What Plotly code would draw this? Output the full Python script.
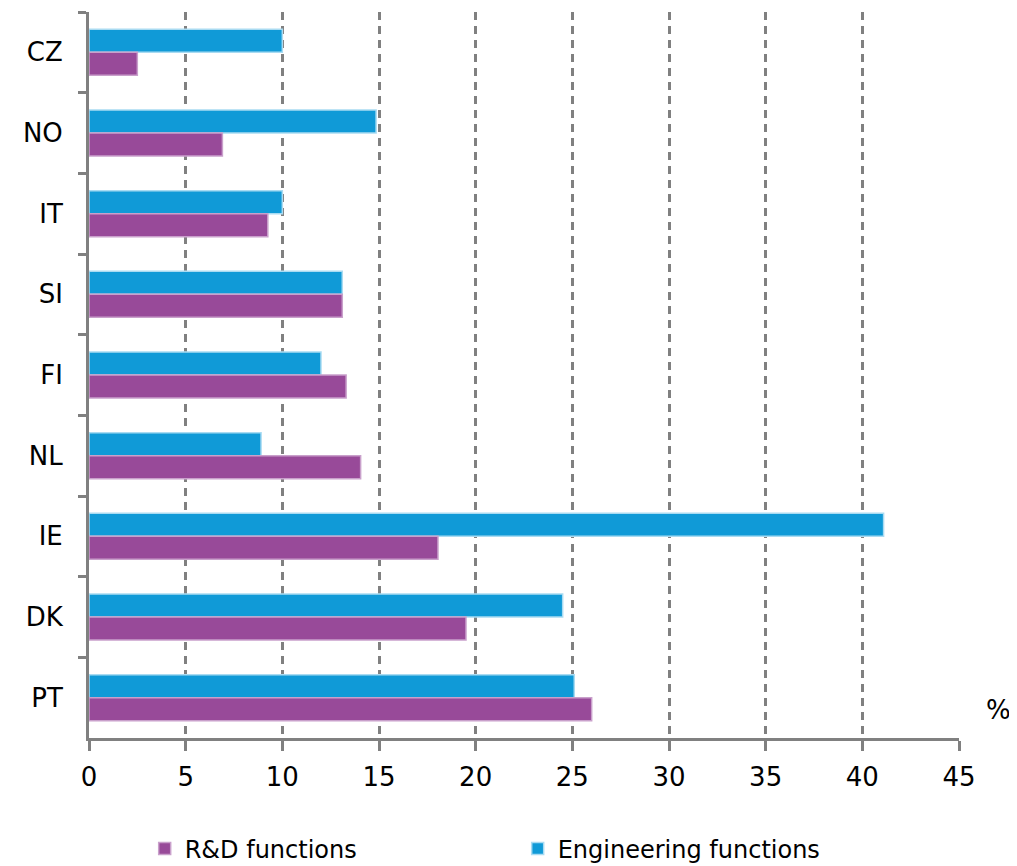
import plotly.graph_objects as go

countries = ["CZ", "NO", "IT", "SI", "FI", "NL", "IE", "DK", "PT"]
rd_values = [2.5, 6.9, 9.25, 13.1, 13.3, 14.05, 18.05, 19.5, 26.0]
eng_values = [10.0, 14.85, 10.0, 13.1, 12.0, 8.9, 41.1, 24.5, 25.1]
x_ticks = [0, 5, 10, 15, 20, 25, 30, 35, 40, 45]

FONT = "DejaVu Sans"

fig = go.Figure()
fig.add_trace(go.Bar(
    y=countries, x=eng_values, orientation="h", name="Engineering functions",
    marker=dict(color="#109AD7", line=dict(color="#A9DBF2", width=1.5)),
    legendrank=2,
))
fig.add_trace(go.Bar(
    y=countries, x=rd_values, orientation="h", name="R&D functions",
    marker=dict(color="#984A99", line=dict(color="#C9A0CB", width=1.5)),
    legendrank=1,
))

fig.update_layout(
    width=1009, height=858,
    margin=dict(l=81, r=58, t=4, b=128, autoexpand=False),
    paper_bgcolor="white", plot_bgcolor="white",
    barmode="group", bargap=0.43, bargroupgap=0,
    font=dict(family=FONT, size=26, color="black"),
    showlegend=True,
    legend=dict(orientation="h", x=0.064, xanchor="left", xref="paper",
                y=0.02, yanchor="middle", yref="container",
                entrywidth=328, entrywidthmode="pixels",
                font=dict(family=FONT, size=24, color="black")),
    xaxis=dict(range=[0, 45], tickvals=x_ticks, ticktext=[str(v) for v in x_ticks],
               showgrid=True, gridcolor="#808080", griddash="8px,6px", gridwidth=3,
               showline=True, linecolor="#808080", linewidth=3,
               ticks="outside", ticklen=10, tickwidth=3, tickcolor="#808080",
               ticklabelstandoff=4, zeroline=False, fixedrange=True),
    yaxis=dict(autorange="reversed", type="category", categoryorder="array",
               categoryarray=countries,
               showgrid=False, showline=True, linecolor="#808080", linewidth=3,
               ticks="outside", ticklen=8, tickwidth=3, tickcolor="#808080",
               tickson="boundaries", ticklabelstandoff=18, fixedrange=True),
    annotations=[dict(text="%", x=1.045, y=0.0386, xref="paper", yref="paper",
                      showarrow=False, xanchor="center", yanchor="middle",
                      font=dict(family=FONT, size=26, color="black"))],
)

fig.write_html("out.html")
